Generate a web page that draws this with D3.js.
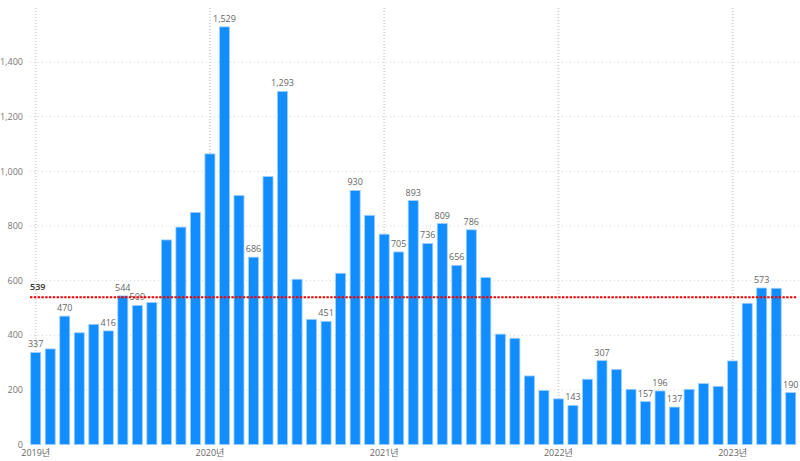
<!DOCTYPE html>
<html><head><meta charset="utf-8">
<script src="https://cdn.jsdelivr.net/npm/d3@7"></script>
<style>body{margin:0;background:#fff}svg{display:block}text{font-family:"Open Sans","Noto Sans CJK KR",sans-serif}</style>
</head><body><svg id="c" width="800" height="461"></svg>
<script>
const months = d3.range(53).map(i => new Date(2019, i, 1));
const values = [337,350,470,409,440,416,544,509,520,749,796,850,1064,1529,912,686,981,1293,605,458,451,627,930,839,770,705,893,736,809,656,786,611,404,389,251,198,167,143,239,307,275,202,157,196,137,202,223,213,306,517,573,572,190];
const labeled = [0,2,5,6,7,13,15,17,20,22,25,26,27,28,29,30,37,39,42,43,44,50,52];
const average = 539;
const yTicks = [0,200,400,600,800,1000,1200,1400];
const yearTicks = [2019,2020,2021,2022,2023];

const svg = d3.select("#c");
const x = d3.scaleBand().domain(d3.range(months.length)).range([28.44, 798]).paddingInner(0.31).paddingOuter(0.155);
const y = d3.scaleLinear().domain([0,1600]).range([444.5, 7.5]);
const fmt = d3.format(",");

// horizontal gridlines
svg.append("g").selectAll("line").data(yTicks.slice(1)).join("line")
  .attr("x1", 30).attr("x2", 800).attr("y1", d => y(d)).attr("y2", d => y(d))
  .attr("stroke", "#d6d6d6").attr("stroke-width", 1).attr("stroke-dasharray", "1,3");
// y labels
svg.append("g").selectAll("text").data(yTicks).join("text")
  .attr("x", 23).attr("y", d => y(d)).attr("dy", "0.35em").attr("text-anchor", "end")
  .attr("font-size", 9).attr("fill", "#777").text(d => fmt(d));

// vertical gridlines
const xc = i => x(i) + x.bandwidth()/2;
svg.append("g").selectAll("line").data(yearTicks).join("line")
  .attr("x1", d => xc((d-2019)*12)).attr("x2", d => xc((d-2019)*12))
  .attr("y1", 8).attr("y2", 444)
  .attr("stroke", "#d6d6d6").attr("stroke-width", 2).attr("stroke-dasharray", "1,2");
svg.append("g").selectAll("text").data(yearTicks).join("text")
  .attr("x", d => xc((d-2019)*12)).attr("y", 456).attr("text-anchor", "middle")
  .attr("font-size", 9).attr("fill", "#666").text(d => d + "년");

// bars
svg.append("g").selectAll("rect").data(values).join("rect")
  .attr("x", (d,i) => x(i)).attr("width", x.bandwidth())
  .attr("y", d => y(d)).attr("height", d => y(0) - y(d))
  .attr("fill", "#118DFF").attr("stroke", "#9fd0ff").attr("stroke-width", 0.8);

// data labels
svg.append("g").selectAll("text").data(labeled).join("text")
  .attr("x", i => xc(i)).attr("y", i => y(values[i]) - 5).attr("text-anchor", "middle")
  .attr("font-size", 9).attr("fill", "#666").text(i => fmt(values[i]));

// average line
svg.append("line").attr("x1", 30).attr("x2", 797).attr("y1", y(average)).attr("y2", y(average))
  .attr("stroke", "#ee0000").attr("stroke-width", 2).attr("stroke-dasharray", "2.4,1.4");
svg.append("text").attr("x", 30).attr("y", y(average) - 7).attr("font-size", 9)
  .attr("fill", "#333").attr("font-weight", 600).text(average);
</script></body></html>
